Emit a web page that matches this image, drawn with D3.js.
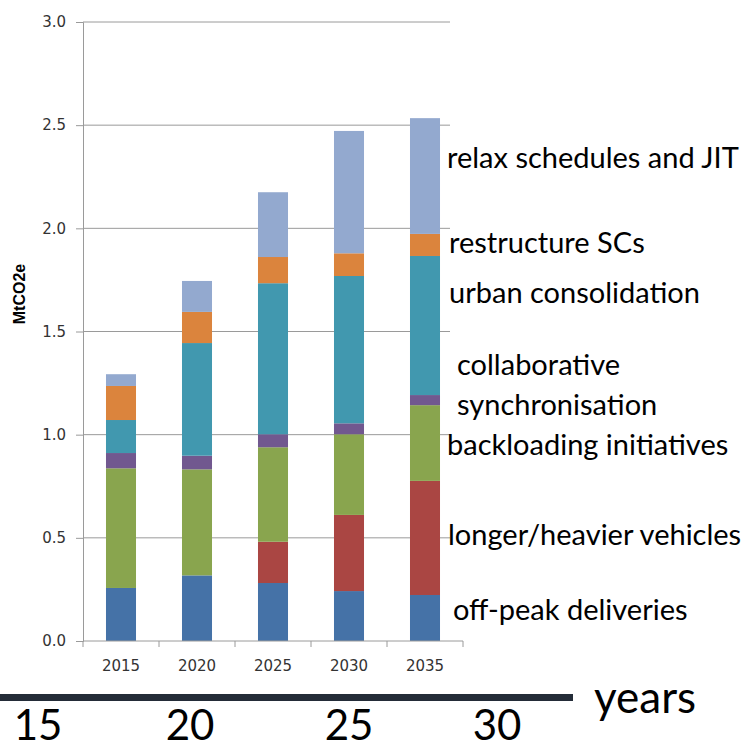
<!DOCTYPE html>
<html>
<head>
<meta charset="utf-8">
<script src="https://cdn.jsdelivr.net/npm/d3@7"></script>
<style>
  html, body { margin: 0; padding: 0; background: #fff; }
  svg { display: block; }
</style>
</head>
<body>
<svg id="chart" width="741" height="749"></svg>
<script>
// Emission reductions by measure, MtCO2e, stacked by year
const years = ["2015", "2020", "2025", "2030", "2035"];
const offPeak        = [0.257, 0.318, 0.281, 0.242, 0.223];
const longerVehicles = [0.000, 0.000, 0.200, 0.369, 0.553];
const backloading    = [0.580, 0.514, 0.458, 0.391, 0.367];
const collaborative  = [0.074, 0.066, 0.063, 0.053, 0.049];
const urbanConsol    = [0.160, 0.546, 0.732, 0.714, 0.674];
const restructureSC  = [0.165, 0.151, 0.127, 0.110, 0.107];
const relaxJIT       = [0.057, 0.150, 0.314, 0.593, 0.561];

const yTicks = [0, 0.5, 1.0, 1.5, 2.0, 2.5, 3.0];
const seriesNames = ["offPeak", "longerVehicles", "backloading", "collaborative",
                     "urbanConsol", "restructureSC", "relaxJIT"];
const seriesValues = [offPeak, longerVehicles, backloading, collaborative,
                      urbanConsol, restructureSC, relaxJIT];
const colors = ["#4572A7", "#AA4643", "#89A54E", "#71588F", "#4198AF", "#DB843D", "#93A9CF"];

// Labels placed beside the last bar, one per measure
const measureLabels = [
  { lines: ["relax schedules and JIT"], x: 447, y: 168 },
  { lines: ["restructure SCs"], x: 449, y: 253 },
  { lines: ["urban consolidation"], x: 449, y: 303 },
  { lines: ["collaborative", "synchronisation"], x: 457, y: 375, dy: 40 },
  { lines: ["backloading initiatives"], x: 447, y: 455 },
  { lines: ["longer/heavier vehicles"], x: 448, y: 545 },
  { lines: ["off-peak deliveries"], x: 453, y: 620 }
];

const timeline = ["15", "20", "25", "30"];

const table = years.map((yr, i) => {
  const row = { year: yr };
  seriesNames.forEach((k, j) => row[k] = seriesValues[j][i]);
  return row;
});

const svg = d3.select("#chart");

const x = d3.scaleBand().domain(years).range([83, 463])
  .paddingInner(0.605).paddingOuter(0.3025);
const y = d3.scaleLinear().domain([0, 3]).range([641, 22]);

// gridlines
svg.append("g").selectAll("line").data(yTicks.slice(1)).join("line")
  .attr("x1", 83).attr("x2", 450)
  .attr("y1", d => y(d)).attr("y2", d => y(d))
  .attr("stroke", "#9a9a9a").attr("stroke-width", 1);

// stacked bars
const stack = d3.stack().keys(seriesNames)(table);
svg.append("g").selectAll("g").data(stack).join("g")
  .attr("fill", (d, i) => colors[i])
  .selectAll("rect").data(d => d).join("rect")
  .attr("x", d => x(d.data.year))
  .attr("width", x.bandwidth())
  .attr("y", d => y(d[1]))
  .attr("height", d => Math.max(0, y(d[0]) - y(d[1])));

// y axis
const yAxis = svg.append("g").attr("transform", "translate(83,0)")
  .call(d3.axisLeft(y).tickValues(yTicks).tickFormat(d3.format(".1f")).tickSize(7).tickPadding(10));
yAxis.select(".domain").attr("stroke", "#9a9a9a");
yAxis.selectAll(".tick line").attr("stroke", "#9a9a9a");
yAxis.selectAll(".tick text")
  .attr("font-family", "DejaVu Sans").attr("font-size", 15).attr("fill", "#333");

// x axis: tick marks on category boundaries
const xAxis = svg.append("g").attr("transform", "translate(0,641)");
xAxis.append("line").attr("x1", 83).attr("x2", 463).attr("stroke", "#9a9a9a");
const bounds = years.map(d => x(d) - x.step() * x.paddingInner() / 2);
bounds.push(bounds[bounds.length - 1] + x.step());
xAxis.selectAll("line.tk").data(bounds).join("line").attr("class", "tk")
  .attr("x1", d => d).attr("x2", d => d).attr("y1", 0).attr("y2", 6)
  .attr("stroke", "#9a9a9a");
xAxis.selectAll("text").data(years).join("text")
  .attr("x", d => x(d) + x.bandwidth() / 2).attr("y", 30)
  .attr("text-anchor", "middle")
  .attr("font-family", "DejaVu Sans").attr("font-size", 15).attr("fill", "#333")
  .text(d => d);

// y axis title
svg.append("text")
  .attr("transform", "translate(25,294) rotate(-90)")
  .attr("text-anchor", "middle")
  .attr("font-family", "Liberation Sans").attr("font-weight", "bold")
  .attr("font-size", 16).attr("fill", "#000")
  .text("MtCO2e");

// measure labels
const lbl = svg.append("g").attr("font-family", "Lato").attr("font-size", 29).attr("fill", "#000");
measureLabels.forEach(m => {
  m.lines.forEach((t, i) => {
    lbl.append("text").attr("x", m.x).attr("y", m.y + i * (m.dy || 0)).text(t);
  });
});

// timeline strip underneath
svg.append("rect").attr("x", 0).attr("y", 694).attr("width", 573).attr("height", 7)
  .attr("fill", "#242c38");
svg.append("text").attr("x", 594).attr("y", 713)
  .attr("font-family", "Lato").attr("font-size", 44).attr("fill", "#000")
  .text("years");
const tx = [38, 190, 349, 497];
svg.append("g").selectAll("text").data(timeline).join("text")
  .attr("x", (d, i) => tx[i]).attr("y", 740).attr("text-anchor", "middle")
  .attr("font-family", "Lato").attr("font-size", 42).attr("fill", "#000")
  .text(d => d);
</script>
</body>
</html>
